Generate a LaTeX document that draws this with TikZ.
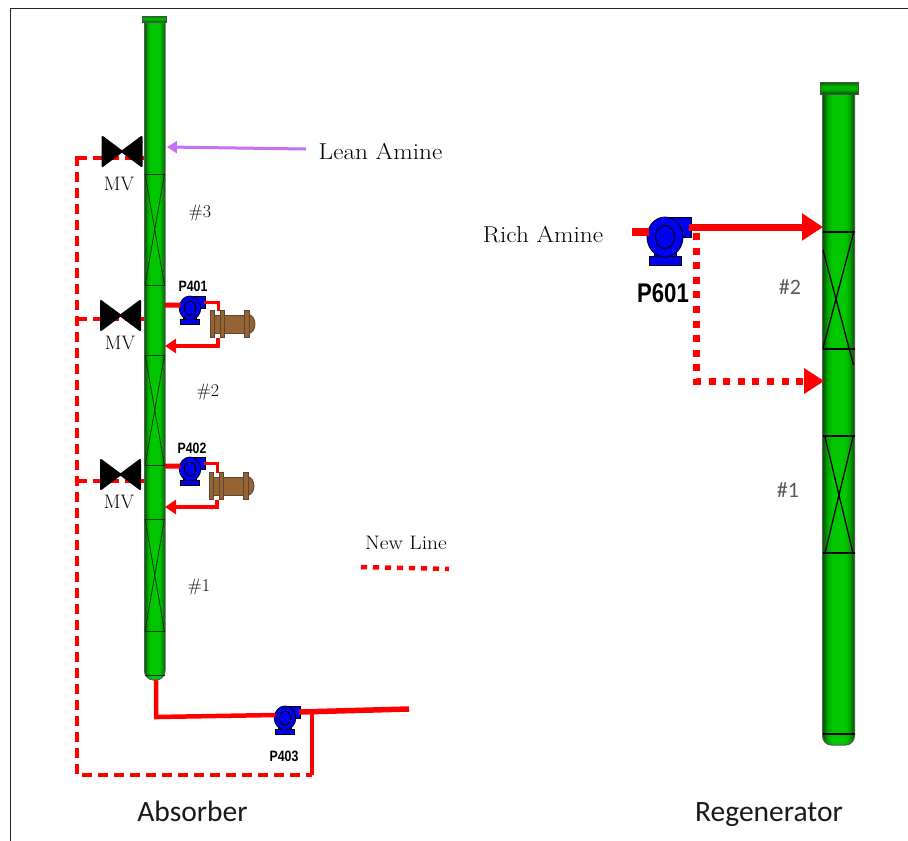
\documentclass[tikz,border=0pt]{standalone}
\usepackage{fontspec}
\usetikzlibrary{arrows.meta}
\newfontfamily\tagfont{Liberation Sans}[Scale=1]
\newfontfamily\capfont{Carlito}
\definecolor{pipered}{RGB}{255,0,0}
\definecolor{leanpurple}{RGB}{196,112,245}
\definecolor{coledge}{RGB}{0,90,0}
\definecolor{colmid}{RGB}{0,200,0}
\definecolor{pumpblue}{RGB}{0,0,240}
\definecolor{hxbrown}{RGB}{150,100,50}
\definecolor{hxedge}{RGB}{90,70,50}
\pgfdeclarehorizontalshading{towershade}{100bp}{rgb(0bp)=(0,.33,0); rgb(25bp)=(0,.33,0); rgb(33bp)=(0,.66,0); rgb(40bp)=(0,.78,0); rgb(60bp)=(0,.78,0); rgb(67bp)=(0,.66,0); rgb(75bp)=(0,.33,0); rgb(100bp)=(0,.33,0)}
\pgfdeclareverticalshading{capshade}{100bp}{rgb(0bp)=(0,.33,0); rgb(25bp)=(0,.33,0); rgb(45bp)=(0,.7,0); rgb(60bp)=(0,.7,0); rgb(75bp)=(0,.4,0); rgb(100bp)=(0,.4,0)}
\newcommand{\towerbody}[4]{% x1,x2,ytop,ybot
  \path[towerfill] (#1,#3) -- (#1,#4-9) arc[start angle=180,end angle=90,x radius=9,y radius=9] -- (#2-9,#4) arc[start angle=90,end angle=0,x radius=9,y radius=9] -- (#2,#3) -- cycle;
}
\tikzset{
  x=1pt,y=-1pt,
  towerfill/.style={draw=black!65,line width=1pt,shading=towershade},
  towercap/.style={draw=black!70,line width=.8pt,shading=capshade},
  packA/.style={draw=black!60!green!50!black,line width=.8pt},
  packB/.style={draw=black,line width=1.3pt},
  mainpipe/.style={draw=pipered,line width=5pt},
  thinpipe/.style={draw=pipered,line width=3pt},
  dashpipe/.style={draw=pipered,line width=4pt,dash pattern=on 10pt off 6pt},
  dotpipe/.style={draw=pipered,line width=7pt,dash pattern=on 7pt off 7.6pt},
  legendpipe/.style={draw=pipered,line width=4.5pt,dash pattern=on 6pt off 6pt},
  smallhead/.style={-{Triangle[length=11pt,width=14pt]}},
  bighead/.style={-{Triangle[length=21pt,width=26pt]}},
  lbl/.style={inner sep=0pt,font=\fontsize{23}{25}\selectfont,text=black},
  smalllbl/.style={inner sep=0pt,font=\fontsize{19.5}{22}\selectfont,text=black},
  hashtxt/.style={inner sep=0pt,font=\fontsize{18}{20}\selectfont,text=black},
  caplbl/.style={inner sep=0pt,anchor=base,font=\capfont\fontsize{29.5}{32}\selectfont,text=black!90},
  hashlbl/.style={inner sep=0pt,font=\capfont\fontsize{22}{24}\selectfont,text=black!65},
  tag/.style={inner sep=0pt,font=\tagfont\bfseries\fontsize{15}{16}\selectfont},
  bigtag/.style={inner sep=0pt,font=\tagfont\bfseries\fontsize{27}{28}\selectfont},
  pics/pump/.style={code={
    \path[draw=black,line width=.8pt,fill=pumpblue] (0,-20) rectangle (26,0);
    \path[draw=black,line width=.8pt,fill=pumpblue] (-11,12) rectangle (11,20);
    \path[draw=black,line width=.8pt,fill=pumpblue] (-16,19) rectangle (16,28);
    \path[draw=black,line width=.8pt,fill=pumpblue] (0,0) ellipse[x radius=18,y radius=20];
    \path[draw=black,line width=1pt] (0,0) ellipse[x radius=9.5,y radius=11.5];
    \coordinate (-in) at (-16,-5);
    \coordinate (-out) at (24,-10);
  }},
  pics/exchanger/.style={code={
    \path[draw=hxedge,line width=.8pt,fill=hxbrown] (38,0) ellipse[x radius=7,y radius=9.5];
    \path[draw=hxedge,line width=.8pt,fill=hxbrown] (3,-9) rectangle (37,9);
    \path[draw=hxedge,line width=.8pt,fill=hxbrown] (0,-13.5) rectangle (4,13.5);
    \path[draw=hxedge,line width=.8pt,fill=hxbrown] (10,-13.5) rectangle (14,13.5);
    \path[draw=hxedge,line width=.8pt,fill=hxbrown] (34.5,-13.5) rectangle (39,13.5);
    \coordinate (-top) at (8,-13.5);
    \coordinate (-bot) at (8,13.5);
  }},
  pics/mvvalve/.style={code={
    \path[fill=black,draw=black,line width=2pt,line join=round] (-19.5,-14.5) -- (19.5,14.5) -- (19.5,-14.5) -- (-19.5,14.5) -- cycle;
    \coordinate (-c) at (0,0);
  }}
}
\begin{document}
\begin{tikzpicture}
\useasboundingbox (0,0) rectangle (908,841);
% frame
\coordinate (frameA) at (10,841);
\coordinate (frameB) at (10,8.5);
\coordinate (frameC) at (908,8.5);
\draw[black!85,line width=.9pt] (frameA) -- (frameB) -- (frameC);

% absorber column
\towerbody{144.5}{165}{21}{680}
\path[towercap] (142.5,16) rectangle (166,22);
\foreach \y in {174,285,355,465,519,631,675}{\draw[packA] (144.5,\y) -- (165,\y);}
\foreach \a/\b in {174/285,355/465,519/631}{
  \draw[packA] (145,\a) -- (164.5,\b);
  \draw[packA] (164.5,\a) -- (145,\b);
}

% regenerator column
\towerbody{822.5}{854.5}{92}{745}
\path[towercap] (820.5,82.5) rectangle (858,94);
\foreach \y in {232,349,436,553,734}{\draw[packB] (822.5,\y) -- (854.5,\y);}
\draw[packB] (853.5,233) -- (823,348);
\draw[packB] (823,250) -- (853.5,365);
\draw[packB] (825,437) -- (853,553);
\draw[packB] (853,437) -- (825,553);

% named ends
\coordinate (ab1) at (165,305);
\coordinate (ab1r) at (165,346);
\coordinate (ab2) at (165,466);
\coordinate (ab2r) at (165,507);
\coordinate (abbot) at (156,680);
\coordinate (abcorner) at (156,717);
\coordinate (product) at (409,709);
\coordinate (tap) at (312,712);
\coordinate (tapb) at (312,775);
\coordinate (rcorner) at (77,775);
\coordinate (rtop) at (77,156);
\coordinate (v1l) at (77,158);
\coordinate (v1r) at (144,158);
\coordinate (v2l) at (77,319);
\coordinate (v2r) at (144,319);
\coordinate (v3l) at (77,481);
\coordinate (v3r) at (144,481);
\coordinate (leanstart) at (306,149);
\coordinate (leanend) at (167,147);
\coordinate (richin) at (632,232);
\coordinate (regtop) at (823,227);
\coordinate (regmidc) at (696,381);
\coordinate (regmid) at (824,381);
\coordinate (legA) at (361,567);
\coordinate (legB) at (449,569);

% pipes under equipment
\draw[dashpipe] (rtop) -- (rcorner) -- (tapb);
\draw[dashpipe] (v1l) -- (v1r);
\draw[dashpipe] (v2l) -- (v2r);
\draw[dashpipe] (v3l) -- (v3r);
\draw[thinpipe,line width=3.5pt] (tap) -- (tapb);

% pumps & exchangers
\pic (p401) [scale=.6] at (190,308) {pump};
\pic (p402) [scale=.6] at (190,469) {pump};
\pic (p403) [scale=.6] at (285,718) {pump};
\pic (ex1) at (210,324) {exchanger};
\pic (ex2) at (209,486) {exchanger};

% absorber loops
\draw[mainpipe] (ab1) -- (p401-in);
\draw[thinpipe] (p401-out) -| (ex1-top);
\draw[draw=pipered,line width=3.5pt,smallhead] (ex1-bot) |- (ab1r);
\draw[mainpipe] (ab2) -- (p402-in);
\draw[thinpipe] (p402-out) -| (ex2-top);
\draw[draw=pipered,line width=3.5pt,smallhead] (ex2-bot) |- (ab2r);
\draw[mainpipe,line width=4.5pt] (abbot) -- (abcorner) -- (p403-in);
\draw[mainpipe,line width=5.5pt] (p403-out) -- (product);

% lean amine
\draw[draw=leanpurple,line width=3pt,-{Triangle[length=10pt,width=12pt]}] (leanstart) -- (leanend);

% valves
\pic (mv1) at (122,151.5) {mvvalve};
\pic (mv2) at (120.5,315.5) {mvvalve};
\pic (mv3) at (120.5,474.5) {mvvalve};

% regenerator feed
\pic (p601) at (665,237) {pump};
\draw[draw=pipered,line width=8pt] (richin) -- (p601-in);
\draw[draw=pipered,line width=7pt,bighead] (p601-out) -- (regtop);
\draw[dotpipe] (696,233) -- (regmidc) -- (806,381);
\path[fill=pipered] (804,368) -- (regmid) -- (804,394) -- cycle;

% legend
\draw[legendpipe] (legA) -- (legB);

% labels
\node[lbl] (leanlbl) at (380.5,151) {\scalebox{1.1}[1]{Lean Amine}};
\node[lbl] (richlbl) at (543,235) {\scalebox{1.1}[1]{Rich Amine}};
\node[smalllbl] (newlbl) at (406,543) {\scalebox{1.1}[1]{New Line}};
\node[smalllbl] (mvt1) at (119,184) {MV};
\node[smalllbl] (mvt2) at (120,343) {MV};
\node[smalllbl] (mvt3) at (119,502) {MV};
\node[hashtxt] (h3) at (200,213) {\#3};
\node[hashtxt] (h2) at (208,392) {\#2};
\node[hashtxt] (h1) at (199,587) {\#1};
\node[hashlbl] (rh2) at (790,287) {\#2};
\node[hashlbl] (rh1) at (788,490) {\#1};
\node[tag] (t401) at (193,286) {\scalebox{.82}[1]{P401}};
\node[tag] (t402) at (192,448) {\scalebox{.82}[1]{P402}};
\node[tag] (t403) at (284,756) {\scalebox{.82}[1]{P403}};
\node[bigtag] (t601) at (663,293) {\scalebox{.82}[1]{P601}};
\node[caplbl] (absl) at (192.5,821) {Absorber};
\node[caplbl] (regl) at (769,821) {Regenerator};
\end{tikzpicture}
\end{document}
